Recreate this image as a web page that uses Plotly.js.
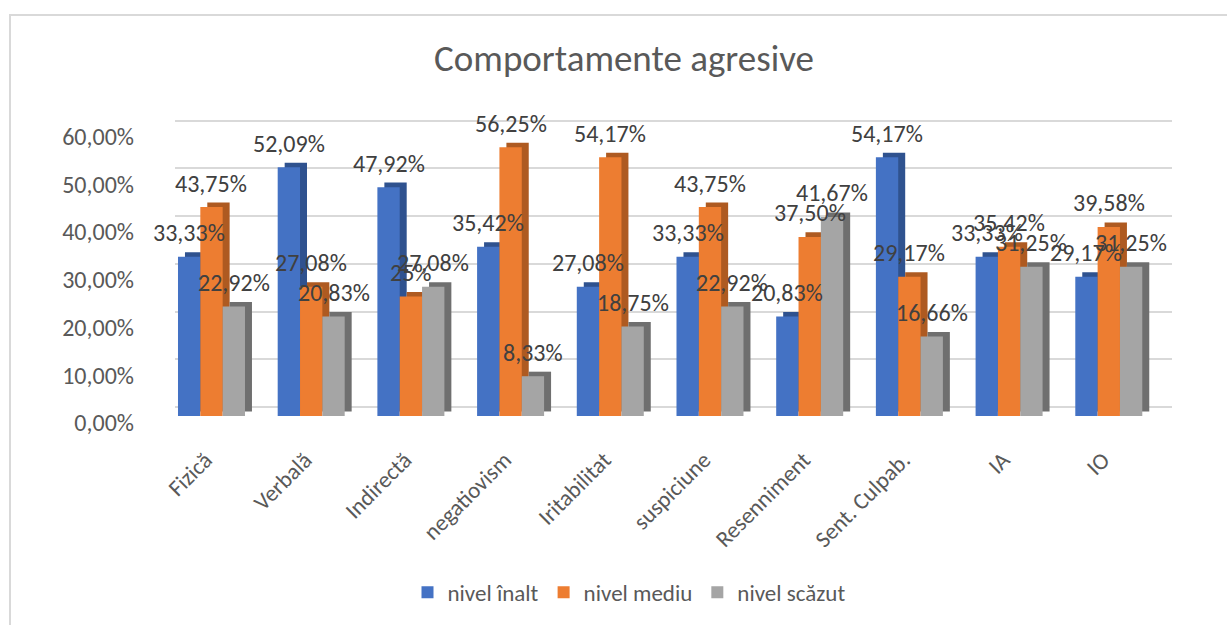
<!DOCTYPE html>
<html>
<head>
<meta charset="utf-8">
<script src="https://cdn.plot.ly/plotly-3.0.1.min.js"></script>
<style>html,body{margin:0;padding:0;background:#fff;}#chart{width:1227px;height:625px;}</style>
</head>
<body>
<div id="chart"></div>
<script>
// ---- data ----
const categories = ["Fizică", "Verbală", "Indirectă", "negatiovism", "Iritabilitat", "suspiciune", "Resenniment", "Sent. Culpab.", "IA", "IO"];
const seriesNames = ["nivel înalt", "nivel mediu", "nivel scăzut"];
const nivelInalt  = [33.33, 52.09, 47.92, 35.42, 27.08, 33.33, 20.83, 54.17, 33.33, 29.17];
const nivelMediu  = [43.75, 27.08, 25.00, 56.25, 54.17, 43.75, 37.50, 29.17, 35.42, 39.58];
const nivelScazut = [22.92, 20.83, 27.08,  8.33, 18.75, 22.92, 41.67, 16.66, 31.25, 31.25];
const yTicks = [0, 10, 20, 30, 40, 50, 60];
const yTickText = ["0,00%", "10,00%", "20,00%", "30,00%", "40,00%", "50,00%", "60,00%"];

// ---- styling ----
const FONT = "Carlito, Lato, sans-serif";
const frontColors = ["#4472c4", "#ed7d31", "#a5a5a5"];
const sideColors  = ["#2f528f", "#ae5a21", "#6f6f6f"];
const W = 0.224;                 // bar width (category units)
const offsets = [-1.5 * W, -0.5 * W, 0.5 * W];
const depthX = 0.07;             // 3D depth shift (category units)
const depthY = 0.95;             // 3D depth shift (value units)

const M = {l: 175, r: 55, t: 112, b: 206};
const plotW = 1227 - M.l - M.r, plotH = 625 - M.t - M.b;
const pxPerUnit = 4.823;
const yMax = plotH / pxPerUnit;
const gridShift = 9 / pxPerUnit;   // back wall gridlines sit 9px above the front

function fmt(v) {
  return (Number.isInteger(v) ? String(v) : v.toFixed(2).replace('.', ',')) + '%';
}

const allSeries = [nivelInalt, nivelMediu, nivelScazut];
const sideTraces = [], frontTraces = [];
const annotations = [];
allSeries.forEach((vals, s) => {
  // depth (side + top) faces, on the back-wall axis 'y'
  sideTraces.push({
    type: 'bar', x: categories, y: vals, base: depthY - gridShift,
    xaxis: 'x', yaxis: 'y',
    width: W, offset: offsets[s] + depthX,
    marker: {color: sideColors[s], line: {width: 0}},
    showlegend: false, hoverinfo: 'skip'
  });
  // front faces, on the front axis 'y2'
  frontTraces.push({
    type: 'bar', name: seriesNames[s], x: categories, y: vals,
    xaxis: 'x', yaxis: 'y2',
    width: W, offset: offsets[s],
    marker: {color: frontColors[s], line: {width: 0}}
  });
  vals.forEach((v, i) => {
    annotations.push({
      x: categories[i], y: v, xref: 'x', yref: 'y2',
      xshift: (offsets[s] + W / 2) * (plotW / 10), yshift: 24,
      text: fmt(v), showarrow: false,
      font: {family: FONT, size: 24, color: '#404040'},
      xanchor: 'center', yanchor: 'middle'
    });
  });
});

function px2paperX(px) { return (px - M.l) / plotW; }
function px2paperY(py) { return (625 - M.b - py) / plotH; }

const layout = {
  width: 1227, height: 625,
  margin: M,
  paper_bgcolor: '#ffffff', plot_bgcolor: 'rgba(0,0,0,0)',
  barmode: 'overlay',
  font: {family: FONT, color: '#595959'},
  title: {
    text: 'Comportamente agresive',
    font: {family: FONT, size: 37, color: '#595959'},
    xref: 'container', yref: 'container', x: 624 / 1227, y: 1 - 58 / 625,
    xanchor: 'center', yanchor: 'middle'
  },
  xaxis: {
    type: 'category', range: [-0.366, 9.634],
    showgrid: false, zeroline: false, showline: false, ticks: '',
    tickangle: -45, ticklabelstandoff: 25, ticklabelshift: -6,
    tickfont: {family: FONT, size: 23, color: '#595959'}
  },
  yaxis: {
    range: [-gridShift, yMax - gridShift], tickmode: 'array', tickvals: yTicks,
    showgrid: true, gridcolor: '#d9d9d9', gridwidth: 2,
    showticklabels: false, zeroline: false, showline: false, ticks: ''
  },
  yaxis2: {
    overlaying: 'y', anchor: 'x', side: 'left',
    range: [0, yMax], tickmode: 'array', tickvals: yTicks, ticktext: yTickText,
    showgrid: false, zeroline: false, showline: false, ticks: '',
    ticklabelstandoff: 40, ticklabelshift: 7,
    tickfont: {family: FONT, size: 24, color: '#595959'}
  },
  legend: {
    orientation: 'h', x: px2paperX(629), xanchor: 'center',
    y: px2paperY(597), yanchor: 'middle',
    font: {family: FONT, size: 23, color: '#595959'},
    itemwidth: 30, traceorder: 'normal'
  },
  annotations: annotations,
  shapes: [{
    type: 'rect', xref: 'paper', yref: 'paper',
    x0: px2paperX(10), x1: px2paperX(1240), y0: px2paperY(640), y1: px2paperY(14),
    line: {color: '#d9d9d9', width: 2}, fillcolor: 'rgba(0,0,0,0)', layer: 'below'
  }]
};

Plotly.newPlot('chart', sideTraces.concat(frontTraces), layout, {displayModeBar: false, staticPlot: true});
</script>
</body>
</html>
